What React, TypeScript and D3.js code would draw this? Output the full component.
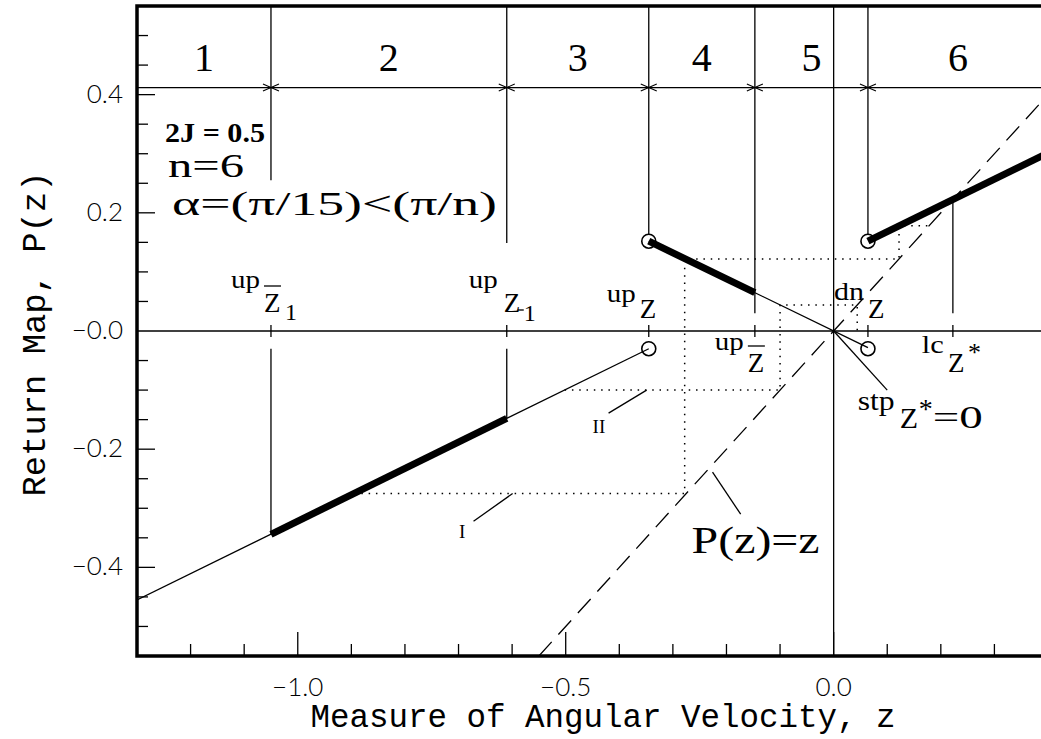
import React from 'react';
import * as d3 from 'd3';

// ---- chart data -------------------------------------------------------
const X_DOMAIN: [number, number] = [-1.3, 0.4];
const Y_DOMAIN: [number, number] = [-0.55, 0.55];

// region boundaries on the z axis (upZ̄1, upZ-1, upZ, upZ̄, dnZ) and region names
const boundaries = [-1.05, -0.61, -0.345, -0.147, 0.064];
const regionNames = ['1', '2', '3', '4', '5', '6'];
const regionBarLevel = 0.412;

// branches of the return map P(z), as [z, P] end points
const lowerBranch: [number, number][] = [[-1.3, -0.455], [-0.345, -0.03]];
const lowerThick: [number, number][] = [[-1.05, -0.344], [-0.61, -0.148]];
const middleBranch: [number, number][] = [[-0.345, 0.152], [0.064, -0.028]];
const middleThick: [number, number][] = [[-0.345, 0.152], [-0.147, 0.065]];
const upperThick: [number, number][] = [[0.064, 0.152], [0.4, 0.3015]];

// open circles at the discontinuities
const openPoints: [number, number][] = [
  [-0.345, 0.152], [-0.345, -0.03], [0.064, 0.152], [0.064, -0.03],
];

// cobweb trajectories I and II (dotted)
const cobwebI: [number, number][] = [
  [-0.895, -0.275], [-0.278, -0.275], [-0.278, 0.122], [0.122, 0.122], [0.122, 0.178], [0.178, 0.178],
];
const cobwebII: [number, number][] = [
  [-0.502, -0.1], [-0.1, -0.1], [-0.1, 0.044], [0.044, 0.044], [0.044, 0.0],
];

// vertical marker lines: [z, top, bottom]
const markerSegments: [number, number, number][] = [
  [-1.05, 0.55, 0.255], [-1.05, -0.03, -0.344],
  [-0.61, 0.55, 0.149], [-0.61, -0.03, -0.148],
  [-0.345, 0.55, 0.164],
  [-0.147, 0.55, 0.03],
  [0.064, 0.55, 0.164],
  [0.2225, 0.2225, 0.03],
];
// small crosses on the z = 0 line
const crossTicks = [-1.05, -0.61, -0.345, -0.147, 0.064, 0.2225];

const xTickValues = [-1.2, -1.1, -1.0, -0.9, -0.8, -0.7, -0.6, -0.5, -0.4, -0.3, -0.2, -0.1, 0.0, 0.1, 0.2, 0.3];
const xMajor = [-1.0, -0.5, 0.0];
const xTickLabels = ['\u22121.0', '\u22120.5', '0.0'];
const yTickValues = [-0.5, -0.45, -0.4, -0.35, -0.3, -0.25, -0.2, -0.15, -0.1, -0.05, 0.05, 0.1, 0.15, 0.2, 0.25, 0.3, 0.35, 0.4, 0.45, 0.5];
const yMajor = [-0.4, -0.2, 0.0, 0.2, 0.4];
const yTickLabels = ['\u22120.4', '\u22120.2', '\u22120.0', '0.2', '0.4'];

const TICK_FONT = "Lato, 'Open Sans', sans-serif";
const SERIF = "'Liberation Serif', 'Times New Roman', serif";
const TITLE_FONT = "'Liberation Mono', 'Courier New', monospace";

const W = 1041;
const H = 739;
const M = { left: 137, right: 1048, top: 6, bottom: 656 };

export default function App() {
  const x = d3.scaleLinear().domain(X_DOMAIN).range([M.left, M.right]);
  const y = d3.scaleLinear().domain(Y_DOMAIN).range([M.bottom, M.top]);
  const line = d3.line<[number, number]>().x((d) => x(d[0])).y((d) => y(d[1]));
  const y0 = y(0);
  const yBar = y(regionBarLevel);

  const edges = [X_DOMAIN[0], ...boundaries, X_DOMAIN[1]];
  const thin = 1.3;

  // pixel anchors for boundary labels
  const bx = boundaries.map((b) => x(b));
  const lcX = x(0.2225);
  const zeroX = x(0);

  return (
    <svg width={W} height={H} style={{ position: 'absolute', left: 0, top: 0, background: '#fff' }}>
      <defs>
        <clipPath id="plotArea">
          <rect x={M.left} y={M.top} width={M.right - M.left} height={M.bottom - M.top} />
        </clipPath>
      </defs>
      <rect x={0} y={0} width={W} height={H} fill="#fff" />

      <g clipPath="url(#plotArea)" fill="none" stroke="#000">
        {/* axes through the origin */}
        <line x1={M.left} x2={M.right} y1={y0} y2={y0} strokeWidth={thin} />
        <line x1={zeroX} x2={zeroX} y1={M.top} y2={M.bottom} strokeWidth={thin} />

        {/* region bar with arrow heads */}
        <line x1={M.left} x2={M.right} y1={yBar} y2={yBar} strokeWidth={thin} />
        {boundaries.map((b, i) => {
          const px = x(b);
          return (
            <path key={`ar${i}`} strokeWidth={1.1}
              d={`M${px - 8},${yBar - 3.5}L${px},${yBar}L${px - 8},${yBar + 3.5}M${px + 8},${yBar - 3.5}L${px},${yBar}L${px + 8},${yBar + 3.5}`} />
          );
        })}

        {/* marker lines */}
        {markerSegments.map(([z, a, b], i) => (
          <line key={`ms${i}`} x1={x(z)} x2={x(z)} y1={y(a)} y2={y(b)} strokeWidth={thin} />
        ))}
        {crossTicks.map((z, i) => (
          <line key={`ct${i}`} x1={x(z)} x2={x(z)} y1={y0 - 6} y2={y0 + 6} strokeWidth={thin} />
        ))}

        {/* P(z) = z */}
        <path d={line([[Y_DOMAIN[0], Y_DOMAIN[0]], [X_DOMAIN[1], X_DOMAIN[1]]])!} strokeWidth={thin} strokeDasharray="19,10" />

        {/* cobwebs */}
        <path d={line(cobwebI)!} strokeWidth={1.5} strokeDasharray="1.5,5.8" />
        <path d={line(cobwebII)!} strokeWidth={1.5} strokeDasharray="1.5,5.8" />

        {/* map branches */}
        <path d={line(lowerBranch)!} strokeWidth={thin} />
        <path d={line(middleBranch)!} strokeWidth={thin} />
        <path d={line(lowerThick)!} strokeWidth={7} />
        <path d={line(middleThick)!} strokeWidth={7} />
        <path d={line(upperThick)!} strokeWidth={7} />

        {openPoints.map(([a, b], i) => (
          <circle key={`op${i}`} cx={x(a)} cy={y(b)} r={7} fill="none" strokeWidth={1.6} />
        ))}

        {/* leader lines */}
        <path d={line([[-0.42, -0.139], [-0.349, -0.1]])!} strokeWidth={thin} />
        <path d={line([[-0.672, -0.322], [-0.599, -0.275]])!} strokeWidth={thin} />
        <path d={line([[-0.1735, -0.31], [-0.226, -0.239]])!} strokeWidth={thin} />
        <path d={line([[0, 0], [0.1, -0.1]])!} strokeWidth={thin} />
      </g>

      {/* ticks */}
      <g stroke="#000" strokeWidth={1.3}>
        {xTickValues.map((v, i) => {
          const major = xMajor.some((m) => Math.abs(m - v) < 1e-9);
          return <line key={`xt${i}`} x1={x(v)} x2={x(v)} y1={M.bottom} y2={M.bottom - (major ? 24 : 12)} />;
        })}
        {yTickValues.map((v, i) => {
          const major = yMajor.some((m) => Math.abs(m - v) < 1e-9);
          return <line key={`yt${i}`} x1={M.left} x2={M.left + (major ? 18 : 11)} y1={y(v)} y2={y(v)} />;
        })}
      </g>

      {/* frame */}
      <rect x={M.left} y={M.top} width={M.right - M.left} height={M.bottom - M.top} fill="none" stroke="#000" strokeWidth={3.5} />

      {/* tick labels */}
      <g fontFamily={TICK_FONT} fontWeight={300} fontSize={26} fill="#000">
        {xMajor.map((v, i) => (
          <text key={`xl${i}`} x={x(v)} y={696} textAnchor="middle">{xTickLabels[i]}</text>
        ))}
        {yMajor.map((v, i) => (
          <text key={`yl${i}`} x={123} y={y(v) + 8} textAnchor="end">{yTickLabels[i]}</text>
        ))}
      </g>

      {/* axis titles */}
      <text x={603} y={727} textAnchor="middle" fontFamily={TITLE_FONT} fontSize={34} textLength={585} lengthAdjust="spacingAndGlyphs">
        Measure of Angular Velocity, z
      </text>
      <text transform={`translate(45,334) rotate(-90)`} textAnchor="middle" fontFamily={TITLE_FONT} fontSize={34} textLength={325} lengthAdjust="spacingAndGlyphs">
        Return Map, P(z)
      </text>

      {/* region numbers */}
      <g fontFamily={SERIF} fontSize={40} textAnchor="middle">
        {regionNames.map((n, i) => (
          <text key={`rn${i}`} x={(x(edges[i]) + x(edges[i + 1])) / 2} y={71}>{n}</text>
        ))}
      </g>

      {/* parameters */}
      <g fontFamily={SERIF}>
        <text x={165} y={142} fontSize={28} fontWeight="bold" textLength={100} lengthAdjust="spacingAndGlyphs">2J = 0.5</text>
        <text x={168} y={177} fontSize={33} textLength={76} lengthAdjust="spacingAndGlyphs">n=6</text>
        <text x={172} y={215} fontSize={34} textLength={325} lengthAdjust="spacingAndGlyphs">α=(π/15)&lt;(π/n)</text>
      </g>

      {/* boundary labels */}
      <g fontFamily={SERIF} fill="#000">
        {/* upZ̄1 */}
        <text x={bx[0] - 40} y={y0 - 43} fontSize={26} textLength={29} lengthAdjust="spacingAndGlyphs">up</text>
        <text x={bx[0] - 7} y={y0 - 19} fontSize={27}>Z</text>
        <line x1={bx[0] - 7} x2={bx[0] + 10} y1={y0 - 45} y2={y0 - 45} stroke="#000" strokeWidth={1.3} />
        <text x={bx[0] + 14} y={y0 - 11} fontSize={24}>1</text>

        {/* upZ-1 */}
        <text x={bx[1] - 38} y={y0 - 43} fontSize={26} textLength={29} lengthAdjust="spacingAndGlyphs">up</text>
        <text x={bx[1] - 3} y={y0 - 19} fontSize={27}>Z</text>
        <line x1={bx[1] + 11} x2={bx[1] + 17} y1={y0 - 21} y2={y0 - 21} stroke="#000" strokeWidth={1.3} />
        <text x={bx[1] + 17} y={y0 - 10} fontSize={24}>1</text>

        {/* upZ */}
        <text x={bx[2] - 42} y={y0 - 29} fontSize={26} textLength={29} lengthAdjust="spacingAndGlyphs">up</text>
        <text x={bx[2] - 9} y={y0 - 13} fontSize={27}>Z</text>

        {/* upZ̄ */}
        <text x={bx[3] - 40} y={y0 + 19} fontSize={26} textLength={29} lengthAdjust="spacingAndGlyphs">up</text>
        <text x={bx[3] - 7} y={y0 + 41} fontSize={27}>Z</text>
        <line x1={bx[3] - 7} x2={bx[3] + 10} y1={y0 + 15} y2={y0 + 15} stroke="#000" strokeWidth={1.3} />

        {/* dnZ */}
        <text x={bx[4] - 34} y={y0 - 31} fontSize={26} textLength={30} lengthAdjust="spacingAndGlyphs">dn</text>
        <text x={bx[4]} y={y0 - 13} fontSize={27}>Z</text>

        {/* lcZ* */}
        <text x={lcX - 31} y={y0 + 22} fontSize={26} textLength={22} lengthAdjust="spacingAndGlyphs">lc</text>
        <text x={lcX - 5} y={y0 + 41} fontSize={27}>Z</text>
        <text x={lcX + 15} y={y0 + 30} fontSize={26}>*</text>

        {/* stpZ*=0 */}
        <text x={zeroX + 24} y={y0 + 79} fontSize={28} textLength={37} lengthAdjust="spacingAndGlyphs">stp</text>
        <text x={zeroX + 66} y={y0 + 97} fontSize={30}>Z</text>
        <text x={zeroX + 85} y={y0 + 87} fontSize={28}>*</text>
        <text x={zeroX + 99} y={y0 + 97} fontSize={32} textLength={50} lengthAdjust="spacingAndGlyphs">=0</text>

        {/* cobweb and diagonal names */}
        <text x={x(-0.693)} y={y(-0.351)} fontSize={19} textAnchor="middle">I</text>
        <text x={x(-0.438)} y={y(-0.173)} fontSize={19} textAnchor="middle">II</text>
        <text x={x(-0.265)} y={y(-0.376)} fontSize={38} textLength={128} lengthAdjust="spacingAndGlyphs">P(z)=z</text>
      </g>
    </svg>
  );
}
